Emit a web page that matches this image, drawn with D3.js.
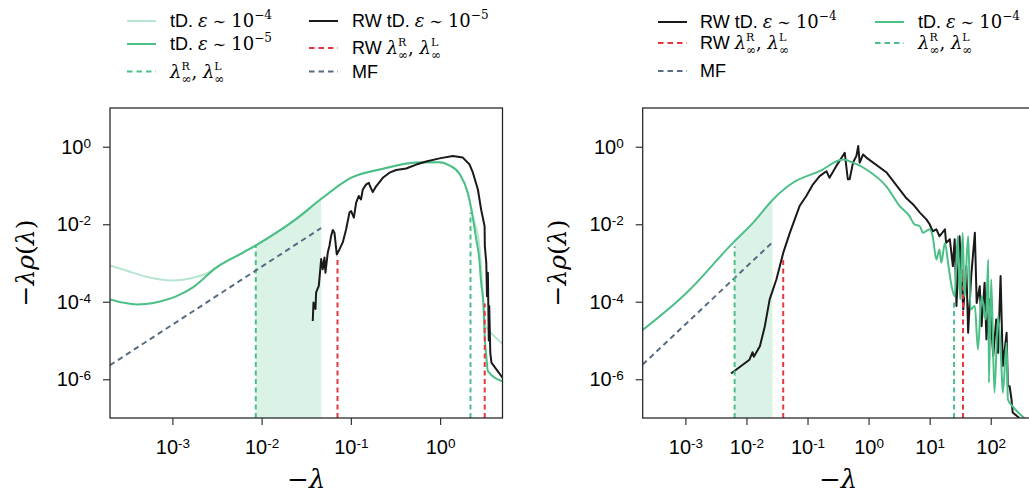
<!DOCTYPE html>
<html><head><meta charset="utf-8">
<script src="https://cdn.jsdelivr.net/npm/d3@7"></script>
<style>body{margin:0;background:#fff} svg{display:block}</style>
</head><body><svg id="c" width="1029" height="493"></svg>
<script>
// ---------------- DATA ----------------
const yTicks = [1e-6, 1e-4, 1e-2, 1];
const leftXTicks = [1e-3, 1e-2, 1e-1, 1];
const rightXTicks = [1e-3, 1e-2, 1e-1, 1, 10, 100];
const leftXDomain = [2e-4, 5];
const rightXDomain = [2e-4, 500];
const yDomain = [1e-7, 10];

// Left panel: tD. eps ~ 1e-4 (light)
const leftTD4X = [2.0e-4, 3.16e-4, 5.0e-4, 1.0e-3, 1.58e-3, 2.51e-3, 3.1e-3, 6.2e-3, 8.7e-3, 1.45e-2, 2.45e-2, 4.7e-2, 0.1, 0.23, 0.54, 0.98, 1.27, 1.65, 2.04, 2.33, 2.75, 2.95, 3.16, 3.43, 5.0];
const leftTD4Y = [8.7e-4, 6.2e-4, 4.5e-4, 3.55e-4, 4.0e-4, 5.6e-4, 7.6e-4, 1.86e-3, 2.9e-3, 6.0e-3, 1.38e-2, 4.6e-2, 0.158, 0.27, 0.39, 0.40, 0.33, 0.20, 0.065, 0.0162, 2.75e-3, 3.2e-4, 2.5e-5, 1.95e-5, 8.3e-6];
// Left panel: tD. eps ~ 1e-5
const leftTD5X = [2.0e-4, 2.8e-4, 4.0e-4, 5.0e-4, 7.1e-4, 1.1e-3, 1.7e-3, 3.1e-3, 6.2e-3, 8.7e-3, 1.45e-2, 2.45e-2, 4.7e-2, 0.1, 0.23, 0.54, 0.98, 1.27, 1.65, 2.04, 2.24, 2.54, 2.75, 2.88, 3.07, 3.16, 3.29, 3.43, 5.0];
const leftTD5Y = [1.15e-4, 9.5e-5, 8.5e-5, 8.7e-5, 1.0e-4, 1.38e-4, 2.34e-4, 7.6e-4, 1.86e-3, 2.9e-3, 6.0e-3, 1.38e-2, 4.6e-2, 0.158, 0.27, 0.39, 0.40, 0.33, 0.20, 0.065, 0.024, 4.1e-3, 1.23e-3, 3.1e-4, 7.8e-5, 1.29e-5, 4.0e-6, 1.62e-6, 8.9e-7];
// Left panel: RW tD. eps ~ 1e-5
const leftRWX = [0.0374, 0.0381, 0.0401, 0.0408, 0.0437, 0.0465, 0.0484, 0.0506, 0.0519, 0.0551, 0.0575, 0.0601, 0.0627, 0.0655, 0.0695, 0.0745, 0.0811, 0.0885, 0.0964, 0.1007, 0.108, 0.1146, 0.1227, 0.130, 0.136, 0.1486, 0.159, 0.164, 0.176, 0.192, 0.228, 0.271, 0.322, 0.417, 0.540, 0.698, 0.984, 1.387, 1.795, 2.14, 2.33, 2.65, 2.88, 3.15, 3.17, 3.29, 3.35, 3.43, 3.51, 3.55, 3.65, 3.76, 5.0];
const leftRWY = [3.2e-5, 9.5e-5, 6.5e-5, 1.74e-4, 2.57e-4, 1.26e-3, 6.9e-4, 1.38e-3, 5.6e-4, 1.86e-3, 2.75e-3, 5.0e-3, 7.1e-3, 6.0e-3, 1.66e-3, 2.24e-3, 3.4e-3, 7.4e-3, 0.020, 0.0219, 0.0148, 0.0363, 0.0537, 0.0437, 0.079, 0.107, 0.1175, 0.0955, 0.0676, 0.0955, 0.158, 0.214, 0.251, 0.275, 0.347, 0.417, 0.501, 0.575, 0.525, 0.347, 0.214, 0.079, 0.024, 8.9e-3, 2.75e-3, 1.02e-3, 1.38e-4, 5.6e-4, 1.0e-5, 7.8e-5, 4.8e-6, 2.7e-6, 1.1e-6];
const leftMFX = [2e-4, 4.65e-2];
const leftMFY = [2.3e-6, 8.0e-3];
const leftShade = [8.6e-3, 4.65e-2];
const leftLamTD = [8.6e-3, 2.19];
const leftLamTDTop = [2.8e-3, 0.02];
const leftLamRW = [0.0708, 3.16];
const leftLamRWTop = [1.5e-3, 9.0e-5];

// Right panel: RW tD. eps ~ 1e-4
const rightRWX = [5.6e-3, 0.0112, 0.0126, 0.0132, 0.0166, 0.020, 0.024, 0.031, 0.040, 0.0513, 0.0741, 0.0955, 0.123, 0.158, 0.204, 0.229, 0.295, 0.407, 0.457, 0.49, 0.556, 0.631, 0.676, 0.715, 0.813, 0.92, 1.95, 4.17, 5.37, 6.92, 8.91, 10, 11.2, 12.9, 14.5, 17.8, 18.6, 21.4, 24.0, 25.7, 27.5, 30.9, 35.5, 39.8, 42.7, 47.9, 55.0, 58.9, 66.1, 70.8, 79.4, 85.1, 95.5, 110, 123, 132, 145, 158, 182, 191, 204, 219, 229, 295];
const rightRWY = [1.41e-6, 3.2e-6, 5.0e-6, 3.8e-6, 7.1e-6, 2.34e-5, 1.15e-4, 3.8e-4, 1.82e-3, 6.0e-3, 0.0295, 0.0537, 0.107, 0.174, 0.234, 0.158, 0.316, 0.70, 0.145, 0.145, 0.389, 0.575, 1.04, 0.389, 0.631, 0.525, 0.22, 0.0468, 0.0324, 0.020, 0.0132, 0.01, 6.6e-3, 7.4e-3, 4.9e-3, 7.4e-3, 3.3e-3, 4.1e-3, 8.3e-4, 4.1e-3, 7.8e-5, 4.9e-3, 6.3e-5, 8.3e-4, 1.58e-5, 4.6e-4, 6.0e-3, 9.3e-5, 2.5e-4, 2.34e-5, 3.1e-4, 1.07e-5, 1.15e-4, 4.0e-6, 3.5e-5, 4.8e-6, 4.6e-4, 2.2e-6, 1.58e-5, 6.6e-7, 6.6e-7, 3.0e-7, 1.38e-7, 1.0e-7];
// Right panel: tD. eps ~ 1e-4
const rightTDX = [2.0e-4, 1.05e-3, 6.0e-3, 0.0129, 0.0272, 0.0575, 0.158, 0.38, 0.556, 0.92, 1.95, 3.24, 4.68, 5.62, 6.92, 7.76, 10, 11.2, 12.9, 14.5, 15.5, 17.8, 20.0, 22.9, 25.7, 28.8, 31.6, 34.7, 37.2, 42.7, 46.8, 55.0, 61.7, 70.8, 83.2, 91.2, 93.3, 102, 115, 132, 148, 158, 182, 191, 229, 380];
const rightTDY = [1.86e-5, 1.7e-4, 3.3e-3, 0.011, 0.0437, 0.1175, 0.234, 0.468, 0.389, 0.259, 0.0955, 0.0295, 0.0162, 0.01, 8.9e-3, 6.0e-3, 7.4e-3, 4.9e-3, 1.23e-3, 2.24e-3, 1.02e-3, 3.3e-3, 1.02e-3, 2.5e-4, 1.38e-4, 4.9e-3, 1.15e-4, 6.0e-3, 1.38e-4, 4.9e-3, 6.3e-5, 7.8e-5, 5.9e-6, 1.38e-4, 3.5e-5, 1.23e-3, 8.1e-7, 3.8e-4, 4.5e-7, 4.3e-5, 3.2e-6, 4.5e-7, 8.7e-6, 3.0e-7, 2.0e-7, 9.1e-8];
const rightMFX = [2e-4, 2.66e-2];
const rightMFY = [2.4e-6, 3.4e-3];
const rightShade = [6.4e-3, 2.66e-2];
const rightLamTD = [6.4e-3, 25.1];
const rightLamTDTop = [2.7e-3, 1.05e-4];
const rightLamRW = [0.040, 35.2];
const rightLamRWTop = [1.23e-3, 6.8e-4];

// ---------------- STYLE ----------------
const SANS = "'Liberation Sans', Arial, sans-serif";
const SERIF = "'DejaVu Serif', serif";
const GREEN = '#4cbf87', RED = '#e2383d', MFC = '#576b82', BLACK = '#1a1a1a';
const svg = d3.select('#c');

function interpLog(xs, ys, v) {
  for (let i = 0; i < xs.length - 1; i++) {
    if (xs[i] <= v && v <= xs[i + 1]) {
      const t = (Math.log10(v) - Math.log10(xs[i])) / (Math.log10(xs[i + 1]) - Math.log10(xs[i]));
      return Math.pow(10, Math.log10(ys[i]) + t * (Math.log10(ys[i + 1]) - Math.log10(ys[i])));
    }
  }
  return ys[ys.length - 1];
}

function panel(cfg) {
  const x = d3.scaleLog().domain(cfg.xDomain).range([cfg.x0, cfg.x1]);
  const y = d3.scaleLog().domain(yDomain).range([418, 108]);
  const g = svg.append('g');
  const cid = 'clip' + cfg.id;
  svg.append('defs').append('clipPath').attr('id', cid)
    .append('rect').attr('x', cfg.x0).attr('y', 108).attr('width', cfg.x1 - cfg.x0).attr('height', 310);
  const plot = g.append('g').attr('clip-path', `url(#${cid})`);
  const zip = (xs, ys) => xs.map((v, i) => [v, ys[i]]);

  const drawers = {
    shade: () => {
      const [a, b] = cfg.shade;
      const pts = [[a, interpLog(cfg.tdX, cfg.tdY, a)]];
      cfg.tdX.forEach((v, i) => { if (v > a && v < b) pts.push([v, cfg.tdY[i]]); });
      pts.push([b, interpLog(cfg.tdX, cfg.tdY, b)]);
      plot.append('path').datum(pts)
        .attr('d', d3.area().curve(d3.curveMonotoneX).x(d => x(d[0])).y0(418).y1(d => y(d[1])))
        .attr('fill', GREEN).attr('fill-opacity', 0.2);
    },
    line: (xs, ys, color, op, smooth) => {
      const line = d3.line().curve(smooth ? d3.curveMonotoneX : d3.curveLinear).x(d => x(d[0])).y(d => y(d[1]));
      plot.append('path').datum(zip(xs, ys)).attr('d', line)
        .attr('fill', 'none').attr('stroke', color).attr('stroke-opacity', op || 1)
        .attr('stroke-width', 2).attr('stroke-linejoin', 'round');
    },
    vlines: (xs, tops, color) => {
      xs.forEach((v, i) => {
        plot.append('line').attr('x1', x(v)).attr('x2', x(v)).attr('y1', 418).attr('y2', y(tops[i]))
          .attr('stroke', color).attr('stroke-width', 2).attr('stroke-dasharray', '5,3.5');
      });
    },
    dashed: (xs, ys, color) => {
      const line = d3.line().x(d => x(d[0])).y(d => y(d[1]));
      plot.append('path').datum(zip(xs, ys)).attr('d', line)
        .attr('fill', 'none').attr('stroke', color).attr('stroke-width', 2).attr('stroke-dasharray', '5.5,4');
    }
  };
  cfg.draw(drawers);

  // frame
  g.append('rect').attr('x', cfg.x0).attr('y', 108).attr('width', cfg.x1 - cfg.x0).attr('height', 310)
    .attr('fill', 'none').attr('stroke', '#222').attr('stroke-width', 1.25);

  const exp = d => String(Math.round(Math.log10(d)));
  const xa = g.append('g').attr('transform', 'translate(0,418)')
    .call(d3.axisBottom(x).tickValues(cfg.xTicks).tickSize(7).tickSizeOuter(0).tickPadding(15).tickFormat(() => '10'));
  const ya = g.append('g').attr('transform', `translate(${cfg.x0},0)`)
    .call(d3.axisLeft(y).tickValues(yTicks).tickSize(7).tickSizeOuter(0).tickPadding(12).tickFormat(() => '10'));
  [xa, ya].forEach(a => {
    a.select('.domain').remove();
    a.selectAll('.tick line').attr('stroke', '#333').attr('stroke-width', 1.2);
    a.selectAll('.tick text').attr('font-family', SANS).attr('font-size', 20).attr('fill', '#000')
      .each(function (d) {
        d3.select(this).append('tspan').attr('dy', '-0.45em').attr('font-size', 13.5).text(exp(d));
      });
  });

  // axis labels
  const cx = (cfg.x0 + cfg.x1) / 2;
  const xl = g.append('text').attr('x', cx).attr('y', 488).attr('text-anchor', 'middle')
    .attr('font-family', SERIF).attr('font-size', 26);
  xl.append('tspan').text('−');
  xl.append('tspan').attr('font-style', 'italic').text('λ');
  const yl = g.append('text').attr('transform', `translate(${cfg.ylabX},263) rotate(-90)`)
    .attr('text-anchor', 'middle').attr('font-family', SERIF).attr('font-size', 25);
  yl.append('tspan').text('−');
  yl.append('tspan').attr('font-style', 'italic').text('λρ');
  yl.append('tspan').text('(');
  yl.append('tspan').attr('font-style', 'italic').text('λ');
  yl.append('tspan').text(')');
}

panel({
  id: 'L', x0: 110, x1: 502.5, xDomain: leftXDomain, xTicks: leftXTicks, ylabX: 34,
  tdX: leftTD5X, tdY: leftTD5Y, shade: leftShade,
  draw: D => {
    D.shade();
    D.line(leftTD4X, leftTD4Y, GREEN, 0.4, true);
    D.line(leftTD5X, leftTD5Y, GREEN, 1, true);
    D.vlines(leftLamTD, leftLamTDTop, GREEN);
    D.line(leftRWX, leftRWY, BLACK, 1, false);
    D.vlines(leftLamRW, leftLamRWTop, RED);
    D.dashed(leftMFX, leftMFY, MFC);
  }
});
panel({
  id: 'R', x0: 642.7, x1: 1033.4, xDomain: rightXDomain, xTicks: rightXTicks, ylabX: 566,
  tdX: rightTDX, tdY: rightTDY, shade: rightShade,
  draw: D => {
    D.shade();
    D.line(rightRWX, rightRWY, BLACK, 1, false);
    D.vlines(rightLamRW, rightLamRWTop, RED);
    D.dashed(rightMFX, rightMFY, MFC);
    D.line(rightTDX, rightTDY, GREEN, 1, true);
    D.vlines(rightLamTD, rightLamTDTop, GREEN);
  }
});

// ---------------- LEGENDS ----------------
function rich(x, y, pieces) {
  let cx = x;
  pieces.forEach(p => {
    if (p.stack) {
      const a = svg.append('text').attr('x', cx).attr('y', y - 8).attr('font-family', SERIF).attr('font-size', 11).text(p.sup);
      const b = svg.append('text').attr('x', cx).attr('y', y + 5).attr('font-family', SERIF).attr('font-size', 12).text(p.sub);
      cx += Math.max(a.node().getComputedTextLength(), b.node().getComputedTextLength());
    } else {
      const t = svg.append('text').attr('x', cx).attr('y', y + (p.dy || 0)).attr('font-family', p.f || SANS)
        .attr('font-size', p.size || 18).attr('font-style', p.it ? 'italic' : null).style('white-space', 'pre').text(p.t);
      cx += t.node().getComputedTextLength();
    }
  });
}
const epsLabel = (pre, e) => [{ t: pre }, { t: 'ε', f: SERIF, it: true }, { t: ' ∼ ', f: SERIF, size: 16 }, { t: '10', f: SERIF }, { t: e, f: SERIF, size: 12, dy: -8 }];
const lamLabel = pre => {
  const a = pre ? [{ t: pre }] : [];
  return a.concat([{ t: 'λ', f: SERIF, it: true }, { stack: true, sup: 'R', sub: '∞' }, { t: ', ', f: SERIF }, { t: 'λ', f: SERIF, it: true }, { stack: true, sup: 'L', sub: '∞' }]);
};
function legendItem(hx, hy, color, op, dashed, tx, pieces) {
  svg.append('line').attr('x1', hx).attr('x2', hx + 29).attr('y1', hy).attr('y2', hy)
    .attr('stroke', color).attr('stroke-opacity', op).attr('stroke-width', 2)
    .attr('stroke-dasharray', dashed ? '5.5,4' : null);
  rich(tx, hy + 6, pieces);
}
const legendLeft = [
  [127, 21, GREEN, 0.4, false, 170, epsLabel('tD. ', '−4')],
  [127, 44, GREEN, 1, false, 170, epsLabel('tD. ', '−5')],
  [127, 71.5, GREEN, 1, true, 170, lamLabel('')],
  [309, 21, BLACK, 1, false, 352, epsLabel('RW tD. ', '−5')],
  [309, 48, RED, 1, true, 352, lamLabel('RW ')],
  [309, 71.5, MFC, 1, true, 352, [{ t: 'MF' }]]
];
const legendRight = [
  [658, 22, BLACK, 1, false, 700, epsLabel('RW tD. ', '−4')],
  [658, 43, RED, 1, true, 700, lamLabel('RW ')],
  [658, 71, MFC, 1, true, 700, [{ t: 'MF' }]],
  [875, 22, GREEN, 1, false, 918, epsLabel('tD. ', '−4')],
  [875, 43, GREEN, 1, true, 918, lamLabel('')]
];
legendLeft.concat(legendRight).forEach(r => legendItem(...r));
</script></body></html>
